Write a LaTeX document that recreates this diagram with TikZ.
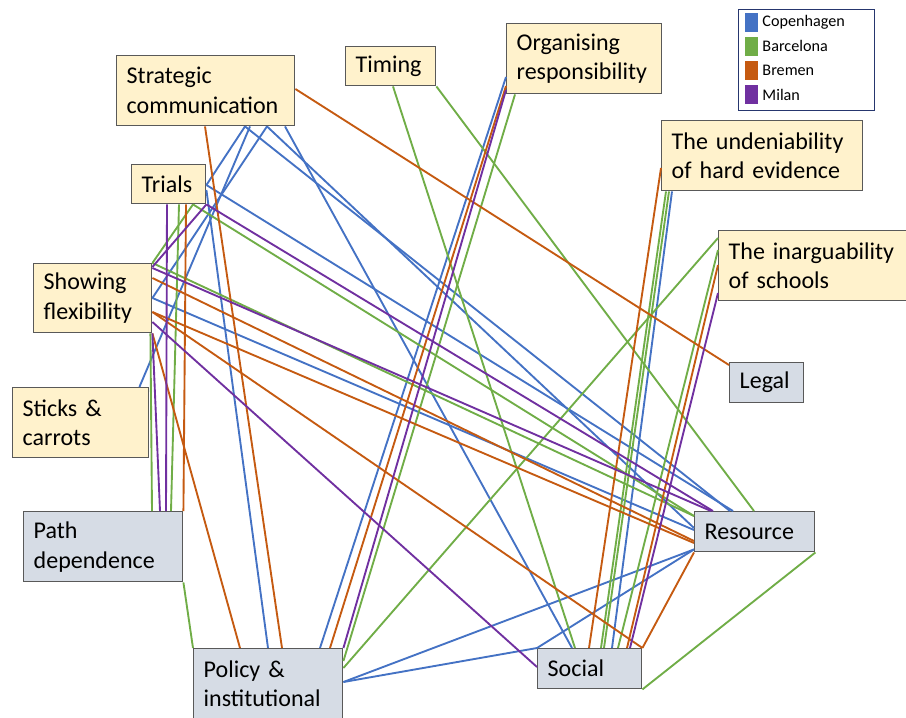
\documentclass[tikz,border=0pt]{standalone}
\usepackage{fontspec}
\setmainfont{Carlito}
\usetikzlibrary{positioning,calc}

\definecolor{cphblue}{HTML}{4472C4}
\definecolor{bcngreen}{HTML}{70AD47}
\definecolor{brmorange}{HTML}{C55A11}
\definecolor{mlnpurple}{HTML}{7030A0}
\definecolor{themefill}{HTML}{FFF2CC}
\definecolor{factorfill}{HTML}{D6DCE5}
\definecolor{legendline}{HTML}{26366E}

\begin{document}
\begin{tikzpicture}[
  x=0.03cm, y=-0.03cm,
  box/.style={draw=black!65, line width=1.2pt, anchor=north west, align=left,
    inner xsep=0.3cm, inner ysep=0pt, font=\fontsize{20.5}{25.5}\selectfont},
  theme/.style={box, fill=themefill},
  factor/.style={box, fill=factorfill},
  link/.style={line width=1.6pt},
  cph/.style={link, draw=cphblue},
  bcn/.style={link, draw=bcngreen},
  brm/.style={link, draw=brmorange},
  mln/.style={link, draw=mlnpurple},
  key/.style={minimum width=0.39cm, minimum height=0.57cm, inner sep=0pt},
  keytext/.style={anchor=west, inner sep=0pt, font=\fontsize{13.8}{15}\selectfont}
]
\useasboundingbox (0,0) rectangle (906,717);

% Themes (yellow)
\node[theme, text width=4.74cm, minimum height=2.1cm]  (sc)     at (116,55)  {Strategic\\communication};
\node[theme, text width=2.1cm,  minimum height=1.17cm] (tim)    at (345,46)  {Timing};
\node[theme, text width=4.05cm, minimum height=2.1cm]  (org)    at (506,23)  {Organising\\responsibility};
\node[theme, text width=5.43cm, minimum height=2.1cm]  (und)    at (661,120) {The undeniability\\of hard evidence};
\node[theme, text width=5.4cm,  minimum height=2.1cm]  (inarg)  at (718,230) {The inarguability\\of schools};
\node[theme, text width=1.62cm, minimum height=1.17cm] (trials) at (131,164) {Trials};
\node[theme, text width=2.94cm, minimum height=2.07cm] (sf)     at (33,263)  {Showing\\flexibility};
\node[theme, text width=3.48cm, minimum height=2.1cm]  (sticks) at (12,387)  {Sticks \&\\carrots};

% Factors (grey)
\node[factor, text width=4.17cm, minimum height=2.1cm] (path)  at (23,511)  {Path\\dependence};
\node[factor, text width=3.87cm, minimum height=2.1cm] (pol)   at (193,648) {Policy \&\\institutional};
\node[factor, text width=1.62cm, minimum height=1.2cm] (legal) at (729,362) {Legal};
\node[factor, text width=3.0cm,  minimum height=1.2cm] (res)   at (694,511) {Resource};
\node[factor, text width=2.52cm, minimum height=1.2cm] (soc)   at (537,648) {Social};

% Legend
\node[draw=legendline, line width=1.2pt, anchor=north west, minimum width=4.08cm, minimum height=3.03cm] (legend) at (738,9) {};
\node[key, fill=cphblue]   (kcph) at (751.5,22.5) {};
\node[key, fill=bcngreen]  (kbcn) at (751.5,46) {};
\node[key, fill=brmorange] (kbrm) at (751.5,70) {};
\node[key, fill=mlnpurple] (kmln) at (751.5,94.5) {};
\node[keytext, right=0.12cm of kcph] {Copenhagen};
\node[keytext, right=0.12cm of kbcn] {Barcelona};
\node[keytext, right=0.12cm of kbrm] {Bremen};
\node[keytext, right=0.12cm of kmln] {Milan};

% Copenhagen
\draw[cph] ($(sc.south west)+(129,0)$) -- ($(trials.north east)+(0,21)$);
\draw[cph] ($(sc.south west)+(129,0)$) -- ($(res.north west)+(36,0)$);
\draw[cph] ($(sc.south west)+(151,0)$) -- ($(res.north west)+(0,17)$);
\draw[cph] ($(sc.south west)+(151,0)$) -- ($(sf.north east)+(0,35)$);
\draw[cph] ($(sc.south west)+(134,0)$) -- ($(sticks.north east)+(-10,0)$);
\draw[cph] ($(sc.south west)+(169,0)$) -- ($(soc.north west)+(35,0)$);
\draw[cph] ($(trials.north east)+(0,21)$) -- ($(res.north west)+(39,0)$);
\draw[cph] ($(trials.north east)+(0,26)$) -- ($(pol.north west)+(75,0)$);
\draw[cph] ($(sf.north east)+(0,35)$) -- ($(res.north west)+(0,19)$);
\draw[cph] ($(org.north west)+(0,54)$) -- ($(pol.north west)+(127,0)$);
\draw[cph] ($(und.south west)+(11,0)$) -- ($(soc.north west)+(75,0)$);
\draw[cph] ($(pol.north east)+(0,34)$) -- ($(res.south west)+(0,-3)$);
\draw[cph] ($(pol.north east)+(0,34)$) -- (soc.north west);
\draw[cph] (soc.north west) -- ($(res.south west)+(0,-3)$);

% Barcelona
\draw[bcn] ($(tim.south west)+(48,0)$) -- ($(soc.north west)+(38,0)$);
\draw[bcn] (tim.south east) -- ($(res.north west)+(60,0)$);
\draw[bcn] ($(trials.south west)+(62,0)$) -- (sf.north east);
\draw[bcn] ($(trials.south west)+(62,0)$) -- ($(res.north west)+(0,5)$);
\draw[bcn] ($(trials.south west)+(48,0)$) -- ($(path.north west)+(148,0)$);
\draw[bcn] (sf.north east) -- ($(res.north west)+(0,5)$);
\draw[bcn] ($(sf.south east)+(-2,0)$) -- ($(path.north west)+(129,0)$);
\draw[bcn] (path.south east) -- (pol.north west);
\draw[bcn] ($(org.south west)+(9,0)$) -- ($(pol.north east)+(0,13)$);
\draw[bcn] ($(pol.north east)+(0,20)$) -- ($(inarg.north west)+(0,8)$);
\draw[bcn] ($(und.south west)+(5,0)$) -- ($(soc.north west)+(64,0)$);
\draw[bcn] ($(und.south west)+(8,0)$) -- ($(soc.north west)+(67,0)$);
\draw[bcn] ($(inarg.north west)+(0,20)$) -- ($(soc.north west)+(81,0)$);
\draw[bcn] (res.south east) -- (soc.south east);

% Bremen
\draw[brm] ($(sc.north east)+(0,34)$) -- ($(legal.north west)+(0,3)$);
\draw[brm] ($(sc.south west)+(89,0)$) -- ($(pol.north west)+(89,0)$);
\draw[brm] ($(trials.south west)+(55,0)$) -- (path.north east);
\draw[brm] ($(sf.north east)+(0,15)$) -- ($(res.north west)+(0,30)$);
\draw[brm] ($(sf.north east)+(0,49)$) -- ($(res.north west)+(0,32)$);
\draw[brm] ($(sf.north east)+(0,49)$) -- (soc.north east);
\draw[brm] (sf.south east) -- ($(pol.north west)+(47,0)$);
\draw[brm] ($(org.north west)+(0,63)$) -- ($(pol.north west)+(137,0)$);
\draw[brm] ($(und.north west)+(0,48)$) -- ($(soc.north west)+(52,0)$);
\draw[brm] ($(inarg.north west)+(0,35)$) -- ($(soc.north west)+(90,0)$);
\draw[brm] (res.south west) -- (soc.north east);

% Milan
\draw[mln] (trials.south east) -- ($(sf.north east)+(0,4)$);
\draw[mln] (trials.south east) -- ($(res.north west)+(19,0)$);
\draw[mln] ($(trials.south west)+(36,0)$) -- ($(path.north west)+(143,0)$);
\draw[mln] ($(sf.north east)+(0,5)$) -- ($(res.north west)+(17,0)$);
\draw[mln] (sf.south east) -- ($(path.north west)+(137,0)$);
\draw[mln] ($(sf.north east)+(0,59)$) -- ($(soc.north west)+(0,19)$);
\draw[mln] ($(org.north west)+(0,67)$) -- (pol.north east);
\draw[mln] ($(inarg.north west)+(0,63)$) -- ($(soc.north west)+(93,0)$);

\end{tikzpicture}
\end{document}
